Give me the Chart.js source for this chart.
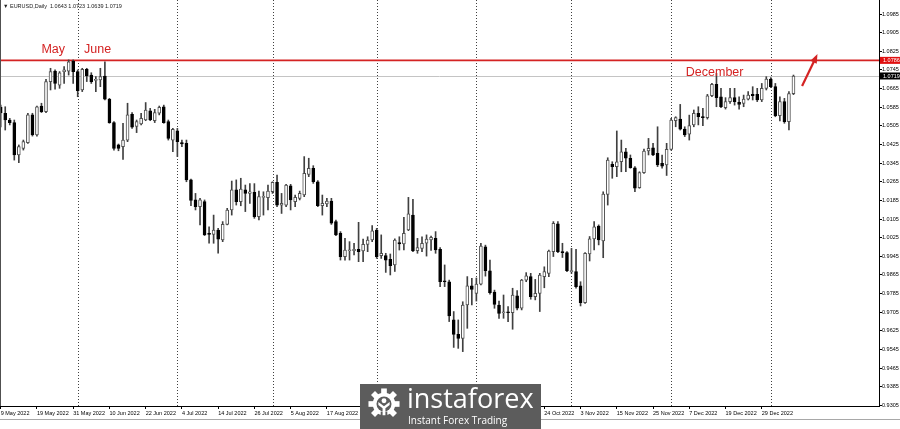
<!DOCTYPE html>
<html>
<head>
<meta charset="utf-8">
<script src="https://cdn.jsdelivr.net/npm/chart.js@4.4.0/dist/chart.umd.min.js"></script>
<style>
  html, body { margin: 0; padding: 0; background: #fff; }
  #wrap { position: relative; width: 900px; height: 429px; overflow: hidden; }
  #frame { position: absolute; left: 0; top: 419px; width: 900px; height: 1px; background: #a8a8a8; }
  #logo { position: absolute; left: 360px; top: 384px; width: 181px; height: 45px; background: #5c5c5c; color: #fff; font-family: "Open Sans", sans-serif; }
  #gear { position: absolute; left: 8px; top: 4px; }
  #brand { position: absolute; left: 47px; top: -1px; font-size: 27px; line-height: 30px; white-space: nowrap; }
  #slogan { position: absolute; left: 48px; top: 30px; font-size: 10px; line-height: 12px; white-space: nowrap; }
</style>
</head>
<body>
<div id="wrap">
  <canvas id="chart" width="900" height="429"></canvas>
  <div id="frame"></div>
  <div id="logo">
    <svg id="gear" width="32" height="32" viewBox="-17 -17 34 34">
      <g fill="#fff">
        <circle r="12"/>
        <rect x="-3" y="-16.5" width="6" height="7"/>
        <rect x="-3" y="-16.5" width="6" height="7" transform="rotate(45)"/>
        <rect x="-3" y="-16.5" width="6" height="7" transform="rotate(90)"/>
        <rect x="-3" y="-16.5" width="6" height="7" transform="rotate(135)"/>
        <rect x="-3" y="-16.5" width="6" height="7" transform="rotate(225)"/>
        <rect x="-3" y="-16.5" width="6" height="7" transform="rotate(270)"/>
        <rect x="-3" y="-16.5" width="6" height="7" transform="rotate(315)"/>
      </g>
      <circle r="8" fill="#5c5c5c"/>
      <rect x="-3.5" y="8" width="7" height="10" fill="#5c5c5c"/>
      <circle cx="0" cy="-3.5" r="2.6" fill="#fff"/>
      <path d="M-6 -2 L0 2.5 L6 -2 L6 1 L1.5 4.5 L1.5 12 L-1.5 12 L-1.5 4.5 L-6 1 Z" fill="#fff"/>
    </svg>
    <div id="brand">instaforex</div>
    <div id="slogan">Instant Forex Trading</div>
  </div>
</div>
<script>
// EURUSD daily, 9 May 2022 .. 9 Jan 2023 (bar index 0..175)
const opens = [
  1.0585, 1.0559, 1.0530, 1.0519, 1.0380, 1.0408, 1.0433, 1.0552,
  1.0466, 1.0590, 1.0566, 1.0695, 1.0740, 1.0680, 1.0737, 1.0740,
  1.0783, 1.0738, 1.0659, 1.0748, 1.0723, 1.0700, 1.0702, 1.0719,
  1.0619, 1.0519, 1.0423, 1.0416, 1.0444, 1.0554, 1.0502, 1.0513,
  1.0530, 1.0569, 1.0527, 1.0559, 1.0587, 1.0523, 1.0444, 1.0484,
  1.0433, 1.0430, 1.0273, 1.0187, 1.0158, 1.0180, 1.0041, 1.0039,
  1.0058, 1.0015, 1.0082, 1.0144, 1.0230, 1.0180, 1.0230, 1.0215,
  1.0220, 1.0115, 1.0198, 1.0197, 1.0222, 1.0263, 1.0165, 1.0165,
  1.0248, 1.0180, 1.0194, 1.0208, 1.0297, 1.0323, 1.0265, 1.0162,
  1.0170, 1.0182, 1.0094, 1.0044, 0.9944, 0.9969, 0.9969, 0.9975,
  0.9968, 0.9996, 1.0015, 1.0058, 0.9948, 0.9948, 0.9932, 0.9908,
  1.0004, 0.9998, 1.0058, 1.0122, 0.9969, 0.9979, 1.0001, 1.0015,
  1.0022, 0.9975, 0.9839, 0.9836, 0.9672, 0.9610, 0.9593, 0.9736,
  0.9818, 0.9786, 0.9826, 0.9986, 0.9883, 0.9792, 0.9736, 0.9703,
  0.9707, 0.9703, 0.9775, 0.9722, 0.9843, 0.9858, 0.9772, 0.9786,
  0.9858, 0.9872, 0.9965, 1.0084, 0.9965, 0.9961, 0.9879, 0.9879,
  0.9818, 0.9746, 0.9955, 1.0020, 1.0075, 1.0011, 1.0211, 1.0340,
  1.0330, 1.0351, 1.0394, 1.0366, 1.0325, 1.0240, 1.0304, 1.0397,
  1.0411, 1.0387, 1.0344, 1.0337, 1.0404, 1.0527, 1.0534, 1.0491,
  1.0469, 1.0509, 1.0559, 1.0544, 1.0540, 1.0634, 1.0683, 1.0630,
  1.0583, 1.0609, 1.0626, 1.0606, 1.0601, 1.0620, 1.0640, 1.0640,
  1.0616, 1.0666, 1.0706, 1.0673, 1.0549, 1.0609, 1.0523, 1.0643
];
const highs = [
  1.0594, 1.0587, 1.0537, 1.0530, 1.0423, 1.0444, 1.0559, 1.0559,
  1.0590, 1.0602, 1.0705, 1.0752, 1.0745, 1.0738, 1.0759, 1.0788,
  1.0788, 1.0745, 1.0752, 1.0752, 1.0733, 1.0716, 1.0752, 1.0780,
  1.0623, 1.0523, 1.0427, 1.0516, 1.0602, 1.0562, 1.0530, 1.0559,
  1.0605, 1.0580, 1.0576, 1.0590, 1.0594, 1.0530, 1.0494, 1.0494,
  1.0444, 1.0444, 1.0277, 1.0215, 1.0194, 1.0187, 1.0072, 1.0122,
  1.0065, 1.0094, 1.0151, 1.0268, 1.0273, 1.0280, 1.0251, 1.0257,
  1.0257, 1.0225, 1.0222, 1.0251, 1.0265, 1.0294, 1.0215, 1.0254,
  1.0254, 1.0208, 1.0225, 1.0373, 1.0366, 1.0334, 1.0270, 1.0208,
  1.0194, 1.0194, 1.0101, 1.0051, 1.0022, 1.0008, 1.0001, 1.0091,
  1.0019, 1.0029, 1.0077, 1.0065, 1.0037, 0.9958, 0.9955, 1.0020,
  1.0029, 1.0112, 1.0198, 1.0190, 1.0022, 1.0029, 1.0037, 1.0032,
  1.0051, 0.9983, 0.9908, 0.9843, 0.9708, 0.9672, 0.9750, 0.9858,
  0.9851, 0.9852, 1.0001, 0.9993, 0.9929, 0.9800, 0.9753, 0.9779,
  0.9729, 0.9808, 0.9798, 0.9846, 0.9875, 0.9872, 0.9846, 0.9872,
  0.9900, 0.9972, 1.0094, 1.0094, 1.0001, 0.9965, 0.9979, 0.9975,
  0.9836, 0.9961, 1.0030, 1.0094, 1.0080, 1.0222, 1.0368, 1.0351,
  1.0483, 1.0444, 1.0408, 1.0380, 1.0330, 1.0308, 1.0405, 1.0451,
  1.0430, 1.0501, 1.0380, 1.0430, 1.0537, 1.0544, 1.0597, 1.0501,
  1.0551, 1.0573, 1.0587, 1.0580, 1.0640, 1.0687, 1.0730, 1.0666,
  1.0626, 1.0666, 1.0666, 1.0630, 1.0637, 1.0652, 1.0673, 1.0666,
  1.0687, 1.0716, 1.0712, 1.0687, 1.0630, 1.0623, 1.0652, 1.0723
];
const lows = [
  1.0500, 1.0487, 1.0509, 1.0358, 1.0347, 1.0401, 1.0430, 1.0461,
  1.0461, 1.0562, 1.0562, 1.0659, 1.0662, 1.0666, 1.0687, 1.0723,
  1.0687, 1.0630, 1.0652, 1.0695, 1.0687, 1.0652, 1.0673, 1.0616,
  1.0516, 1.0401, 1.0398, 1.0361, 1.0437, 1.0494, 1.0476, 1.0509,
  1.0527, 1.0527, 1.0519, 1.0552, 1.0516, 1.0444, 1.0394, 1.0373,
  1.0416, 1.0265, 1.0162, 1.0144, 1.0080, 1.0034, 1.0001, 1.0001,
  0.9958, 1.0008, 1.0080, 1.0122, 1.0165, 1.0162, 1.0137, 1.0172,
  1.0108, 1.0101, 1.0122, 1.0144, 1.0215, 1.0158, 1.0129, 1.0158,
  1.0144, 1.0158, 1.0187, 1.0201, 1.0287, 1.0258, 1.0158, 1.0122,
  1.0158, 1.0082, 1.0034, 0.9929, 0.9929, 0.9929, 0.9951, 0.9922,
  0.9922, 0.9965, 1.0008, 0.9936, 0.9936, 0.9876, 0.9865, 0.9880,
  0.9972, 0.9972, 1.0055, 0.9965, 0.9958, 0.9965, 0.9946, 0.9970,
  0.9958, 0.9815, 0.9815, 0.9665, 0.9554, 0.9550, 0.9536, 0.9636,
  0.9736, 0.9753, 0.9822, 0.9860, 0.9783, 0.9722, 0.9679, 0.9679,
  0.9665, 0.9632, 0.9715, 0.9715, 0.9836, 0.9761, 0.9758, 0.9708,
  0.9810, 0.9858, 0.9944, 0.9961, 0.9940, 0.9879, 0.9872, 0.9808,
  0.9732, 0.9743, 0.9925, 0.9972, 0.9994, 0.9939, 1.0165, 1.0280,
  1.0287, 1.0308, 1.0308, 1.0323, 1.0222, 1.0237, 1.0301, 1.0380,
  1.0377, 1.0330, 1.0323, 1.0292, 1.0401, 1.0501, 1.0487, 1.0459,
  1.0444, 1.0501, 1.0509, 1.0506, 1.0534, 1.0630, 1.0587, 1.0583,
  1.0577, 1.0601, 1.0594, 1.0577, 1.0587, 1.0616, 1.0616, 1.0609,
  1.0609, 1.0659, 1.0669, 1.0544, 1.0526, 1.0516, 1.0487, 1.0639
];
const closes = [
  1.0560, 1.0530, 1.0519, 1.0380, 1.0416, 1.0437, 1.0552, 1.0466,
  1.0587, 1.0566, 1.0695, 1.0738, 1.0687, 1.0733, 1.0745, 1.0780,
  1.0738, 1.0656, 1.0748, 1.0719, 1.0695, 1.0702, 1.0716, 1.0619,
  1.0519, 1.0408, 1.0408, 1.0444, 1.0552, 1.0499, 1.0523, 1.0537,
  1.0573, 1.0530, 1.0562, 1.0584, 1.0519, 1.0451, 1.0490, 1.0437,
  1.0427, 1.0273, 1.0185, 1.0158, 1.0187, 1.0037, 1.0039, 1.0058,
  1.0019, 1.0082, 1.0144, 1.0230, 1.0180, 1.0234, 1.0215, 1.0222,
  1.0115, 1.0201, 1.0201, 1.0225, 1.0263, 1.0165, 1.0172, 1.0251,
  1.0187, 1.0198, 1.0215, 1.0301, 1.0323, 1.0265, 1.0162, 1.0172,
  1.0182, 1.0087, 1.0037, 0.9944, 0.9972, 0.9970, 0.9975, 0.9965,
  0.9996, 1.0015, 1.0054, 0.9944, 0.9958, 0.9929, 0.9905, 1.0015,
  0.9998, 1.0044, 1.0127, 0.9968, 0.9982, 1.0001, 1.0019, 1.0027,
  0.9972, 0.9836, 0.9836, 0.9689, 0.9610, 0.9593, 0.9736, 0.9818,
  0.9803, 0.9826, 0.9989, 0.9883, 0.9789, 0.9739, 0.9700, 0.9707,
  0.9703, 0.9779, 0.9722, 0.9843, 0.9861, 0.9772, 0.9786, 0.9865,
  0.9879, 0.9968, 1.0087, 0.9965, 0.9961, 0.9883, 0.9883, 0.9815,
  0.9746, 0.9958, 1.0020, 1.0072, 1.0015, 1.0212, 1.0358, 1.0330,
  1.0351, 1.0394, 1.0366, 1.0325, 1.0237, 1.0304, 1.0397, 1.0408,
  1.0380, 1.0337, 1.0332, 1.0404, 1.0530, 1.0540, 1.0491, 1.0466,
  1.0506, 1.0559, 1.0544, 1.0540, 1.0634, 1.0683, 1.0626, 1.0587,
  1.0609, 1.0626, 1.0609, 1.0597, 1.0620, 1.0637, 1.0634, 1.0616,
  1.0666, 1.0706, 1.0673, 1.0549, 1.0609, 1.0523, 1.0644, 1.0719
];

// time axis labels (every 8th bar) and the first bar of each month
const tickBars = [0, 8, 16, 24, 32, 40, 48, 56, 64, 72, 80, 88, 96, 104, 112, 120, 128, 136, 144, 152, 160, 168];
const tickLabels = ['9 May 2022', '19 May 2022', '31 May 2022', '10 Jun 2022', '22 Jun 2022', '4 Jul 2022',
  '14 Jul 2022', '26 Jul 2022', '5 Aug 2022', '17 Aug 2022', '29 Aug 2022', '8 Sep 2022', '20 Sep 2022',
  '30 Sep 2022', '12 Oct 2022', '24 Oct 2022', '3 Nov 2022', '15 Nov 2022', '25 Nov 2022', '7 Dec 2022',
  '19 Dec 2022', '29 Dec 2022'];
const monthStarts = [17, 39, 60, 83, 105, 126, 148, 170];

// price axis labels
const priceTicks = [0.9305, 0.9385, 0.9465, 0.9545, 0.9625, 0.9705, 0.9785, 0.9865, 0.9945, 1.0025, 1.0105,
  1.0185, 1.0265, 1.0345, 1.0425, 1.0505, 1.0585, 1.0665, 1.0745, 1.0825, 1.0905, 1.0985];

const resistance = 1.0786;
const bid = 1.0719;
const header = '\u25BC EURUSD,Daily  1.0643 1.0723 1.0639 1.0719';

// hand-drawn notes: text, bar position, price at baseline
const notes = [
  { text: 'May', bar: 11.6, price: 1.0819 },
  { text: 'June', bar: 21.4, price: 1.0819 },
  { text: 'December', bar: 157.6, price: 1.0720 }
];
const arrowFrom = { bar: 176.9, price: 1.0676 };
const arrowTo = { bar: 180.3, price: 1.0813 };

const isUp = i => closes[i] >= opens[i];
const bodies = opens.map((o, i) => ({ x: i, y: [o, closes[i]] }));
const wicks = opens.map((o, i) => ({ x: i, y: [lows[i], highs[i]] }));

const axisFont = { family: 'Liberation Sans, Arial, sans-serif', size: 5.5 };
const RED = '#d42323';

const overlay = {
  id: 'overlay',
  beforeDatasetsDraw(chart) {
    const { ctx, chartArea: a, scales: { x, y } } = chart;
    ctx.save();
    // period separators
    ctx.strokeStyle = '#404040';
    ctx.lineWidth = 1;
    ctx.setLineDash([1, 2]);
    monthStarts.forEach(b => {
      const px = Math.round(x.getPixelForValue(b)) + 0.5;
      ctx.beginPath();
      ctx.moveTo(px, a.top);
      ctx.lineTo(px, a.bottom);
      ctx.stroke();
    });
    ctx.setLineDash([]);
    // bid line
    const by = Math.round(y.getPixelForValue(bid)) + 0.5;
    ctx.strokeStyle = '#c4c4c4';
    ctx.beginPath();
    ctx.moveTo(a.left, by);
    ctx.lineTo(a.right, by);
    ctx.stroke();
    // resistance level
    const ry = y.getPixelForValue(resistance);
    ctx.strokeStyle = RED;
    ctx.lineWidth = 1.6;
    ctx.beginPath();
    ctx.moveTo(a.left, ry);
    ctx.lineTo(a.right, ry);
    ctx.stroke();
    ctx.restore();
  },
  afterDraw(chart) {
    const { ctx, chartArea: a, scales: { x, y } } = chart;
    ctx.save();
    // window left border
    ctx.fillStyle = '#505050';
    ctx.fillRect(0, 0, 1, a.bottom);

    // price boxes on the axis
    ctx.font = '5.5px Liberation Sans, Arial, sans-serif';
    ctx.textBaseline = 'middle';
    ctx.textAlign = 'left';
    [[resistance, '#e01010'], [bid, '#000']].forEach(([p, col]) => {
      const py = y.getPixelForValue(p);
      ctx.fillStyle = col;
      ctx.fillRect(a.right + 1, py - 3.5, 21, 7);
      ctx.fillStyle = '#fff';
      ctx.fillText(p.toFixed(4), a.right + 4, py + 0.5);
    });

    // header
    ctx.fillStyle = '#202020';
    ctx.textBaseline = 'alphabetic';
    ctx.fillText(header, 3, 8);

    // notes
    ctx.fillStyle = RED;
    ctx.font = '12.5px Liberation Sans, Arial, sans-serif';
    ctx.textAlign = 'center';
    notes.forEach(n => ctx.fillText(n.text, x.getPixelForValue(n.bar), y.getPixelForValue(n.price)));

    // arrow
    const x0 = x.getPixelForValue(arrowFrom.bar), y0 = y.getPixelForValue(arrowFrom.price);
    const x1 = x.getPixelForValue(arrowTo.bar), y1 = y.getPixelForValue(arrowTo.price);
    const ang = Math.atan2(y1 - y0, x1 - x0);
    ctx.strokeStyle = RED;
    ctx.lineWidth = 2.2;
    ctx.beginPath();
    ctx.moveTo(x0, y0);
    ctx.lineTo(x1 - 6 * Math.cos(ang), y1 - 6 * Math.sin(ang));
    ctx.stroke();
    ctx.beginPath();
    ctx.moveTo(x1, y1);
    ctx.lineTo(x1 - 9 * Math.cos(ang) + 3.5 * Math.sin(ang), y1 - 9 * Math.sin(ang) - 3.5 * Math.cos(ang));
    ctx.lineTo(x1 - 9 * Math.cos(ang) - 3.5 * Math.sin(ang), y1 - 9 * Math.sin(ang) + 3.5 * Math.cos(ang));
    ctx.closePath();
    ctx.fill();
    ctx.restore();
  }
};

new Chart(document.getElementById('chart'), {
  type: 'bar',
  data: {
    datasets: [
      {
        data: bodies,
        grouped: false,
        order: 0,
        categoryPercentage: 1,
        barPercentage: 1,
        maxBarThickness: 3,
        minBarLength: 1,
        borderWidth: 1,
        borderSkipped: false,
        backgroundColor: c => isUp(c.dataIndex) ? '#ffffff' : '#000000',
        borderColor: c => isUp(c.dataIndex) ? '#505050' : '#000000'
      },
      {
        data: wicks,
        grouped: false,
        order: 1,
        categoryPercentage: 1,
        barPercentage: 1,
        maxBarThickness: 1,
        borderWidth: 0,
        backgroundColor: '#404040'
      }
    ]
  },
  options: {
    responsive: false,
    animation: false,
    events: [],
    layout: { padding: 0 },
    plugins: { legend: { display: false }, tooltip: { enabled: false } },
    scales: {
      x: {
        type: 'linear',
        position: 'bottom',
        offset: false,
        min: -0.155,
        max: 193.88,
        grid: { offset: false, drawOnChartArea: false, drawTicks: true, tickLength: 3, color: '#000' },
        border: { display: true, color: '#000', width: 1 },
        ticks: {
          autoSkip: false, maxRotation: 0, minRotation: 0, align: 'start', padding: 1,
          color: '#000', font: axisFont,
          callback: (v, i) => tickLabels[i]
        },
        afterBuildTicks: s => { s.ticks = tickBars.map(v => ({ value: v })); },
        afterFit: s => { s.height = 23; s.paddingLeft = 0; s.paddingRight = 0; }
      },
      y: {
        position: 'right',
        min: 0.93026,
        max: 1.10451,
        grid: { drawOnChartArea: false, drawTicks: true, tickLength: 3, color: '#000' },
        border: { display: true, color: '#000', width: 1 },
        ticks: { padding: 0, color: '#000', font: axisFont, callback: v => v.toFixed(4) },
        afterBuildTicks: s => { s.ticks = priceTicks.map(v => ({ value: v })); },
        afterFit: s => { s.width = 21; s.paddingTop = 0; s.paddingBottom = 0; }
      }
    }
  },
  plugins: [overlay]
});
</script>
</body>
</html>
